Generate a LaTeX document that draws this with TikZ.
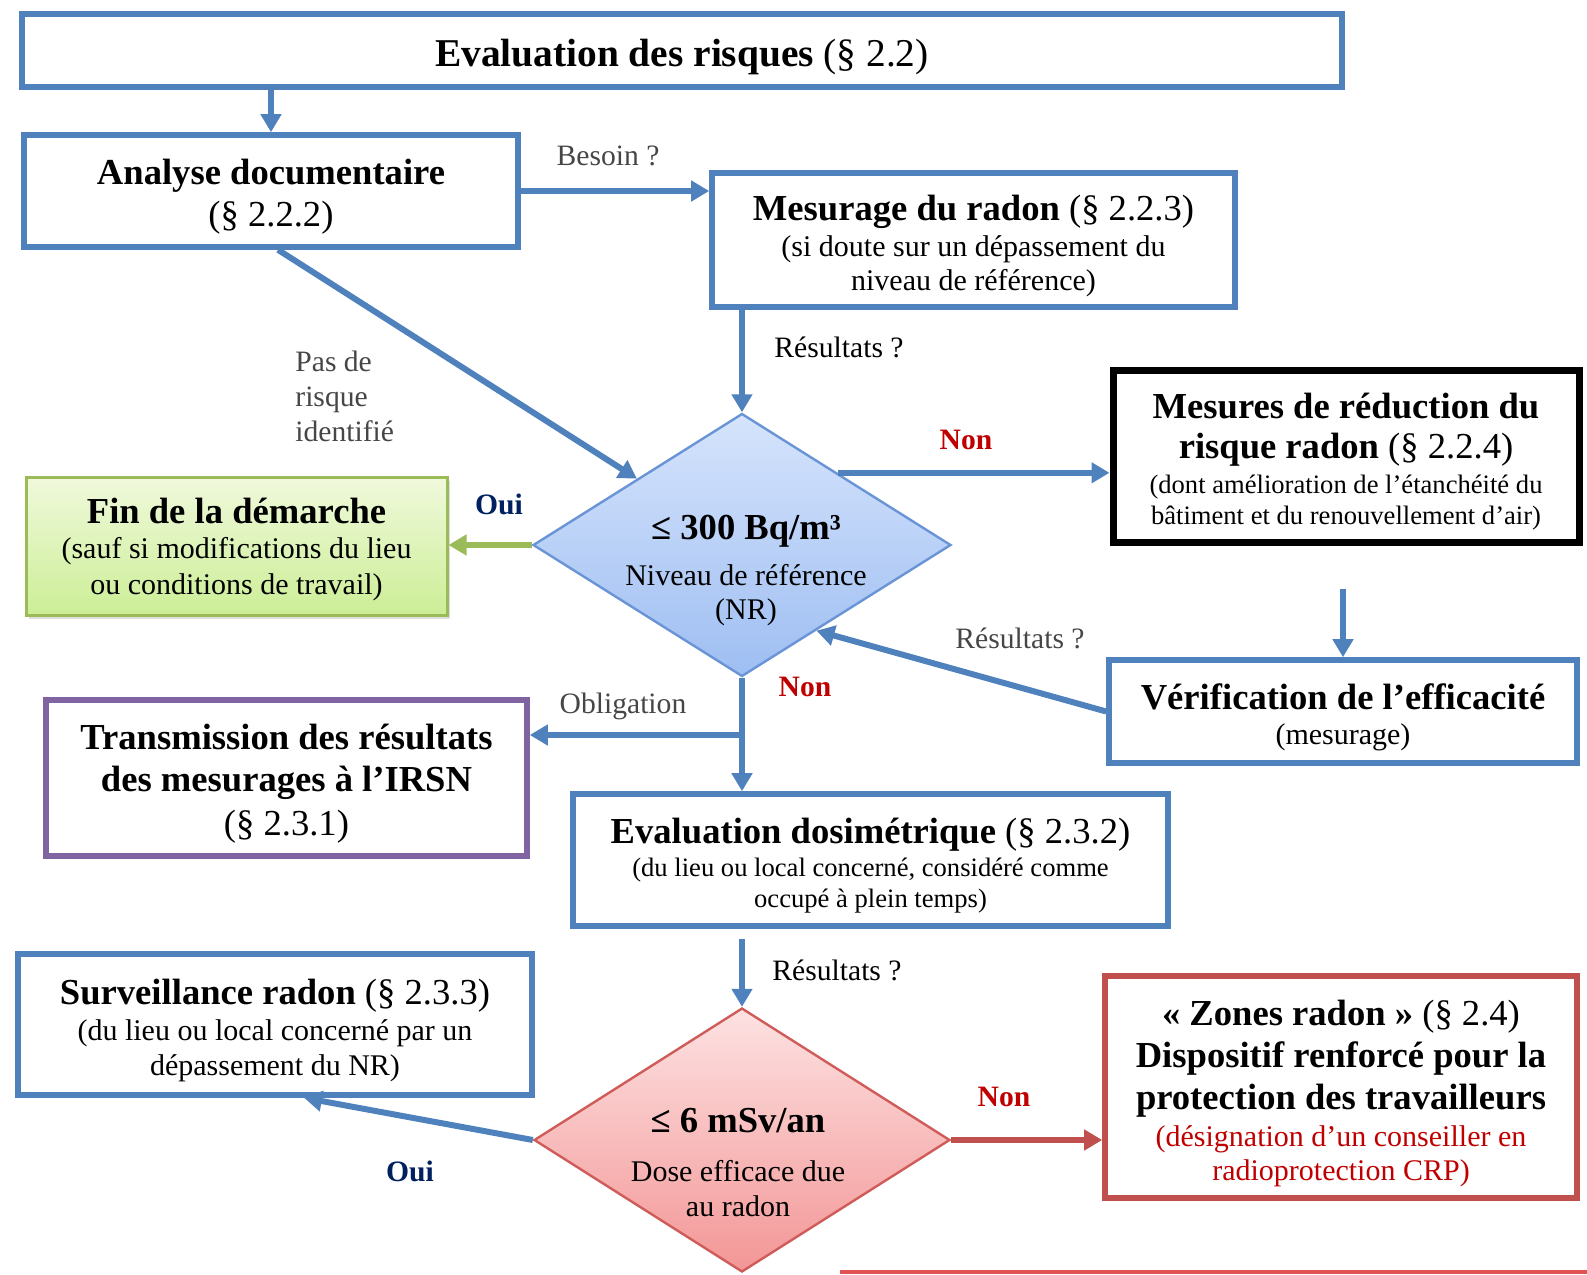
\documentclass[tikz,border=0pt]{standalone}
\usepackage{fontspec}
\setmainfont{Liberation Serif}
\usepackage{tikz}
\usetikzlibrary{arrows.meta,shapes.geometric,shadows}
\definecolor{box-blue}{RGB}{79,129,189}
\definecolor{nr-edge}{RGB}{105,148,214}
\definecolor{nr-top}{RGB}{214,228,252}
\definecolor{nr-bottom}{RGB}{158,190,242}
\definecolor{fin-edge}{RGB}{155,187,89}
\definecolor{fin-top}{RGB}{240,249,220}
\definecolor{fin-bottom}{RGB}{204,238,150}
\definecolor{trans-purple}{RGB}{128,100,162}
\definecolor{zone-red}{RGB}{192,80,77}
\definecolor{dose-edge}{RGB}{208,92,90}
\definecolor{dose-top}{RGB}{253,226,226}
\definecolor{dose-bottom}{RGB}{243,150,150}
\definecolor{non-red}{RGB}{192,0,0}
\definecolor{oui-blue}{RGB}{0,32,96}
\definecolor{lbl-gray}{RGB}{70,70,70}
\definecolor{cut-red}{RGB}{226,84,84}
\newcommand{\txtTitle}{\fontsize{19.7}{22}\selectfont}
\newcommand{\txtMain}{\fontsize{18.3}{21}\selectfont}
\newcommand{\txtSub}{\fontsize{15}{17}\selectfont}
\newcommand{\txtSmall}{\fontsize{13.3}{15.5}\selectfont}
\newcommand{\txtLabel}{\fontsize{14.8}{17.5}\selectfont}
\newcommand{\sinkline}{\rule{0pt}{18.7pt}}
\tikzstyle{box}=[draw=box-blue, line width=2.8pt, fill=white, align=center, inner sep=0pt]
\tikzstyle{choice}=[diamond, inner sep=0pt, line width=1.2pt]
\tikzstyle{dtext}=[font=\txtSub, align=center, inner sep=0pt]
\tikzstyle{link}=[draw=box-blue, line width=3pt, -{Triangle[length=9pt,width=10pt]}]
\tikzstyle{lbl}=[font=\txtLabel, inner sep=0pt]
\tikzstyle{non}=[font=\txtLabel\bfseries, text=non-red, inner sep=0pt]
\tikzstyle{oui}=[font=\txtLabel\bfseries, text=oui-blue, inner sep=0pt]

\begin{document}
\begin{tikzpicture}[x=0.5pt,y=-0.5pt]
	\useasboundingbox (0,0) rectangle (1587,1275);
	\node[box, minimum width=660pt, minimum height=36.5pt, font=\txtTitle] (risques) at (682,50.5) {\rule{0pt}{19.7pt}\textbf{Evaluation des risques} (§ 2.2)};
	\node[box, minimum width=247pt, minimum height=56pt, font=\txtMain] (analyse) at (271,191) {\sinkline\textbf{Analyse documentaire}\\(§ 2.2.2)};
	\node[box, minimum width=261.5pt, minimum height=67pt, font=\txtSub] (mesurage) at (973.5,240) {{\sinkline\txtMain\textbf{Mesurage du radon} (§ 2.2.3)}\\[1pt](si doute sur un dépassement du\\niveau de référence)};
	\node[box, draw=black, line width=3.5pt, minimum width=233pt, minimum height=86pt, font=\txtSmall] (mesures) at (1346,456) {{\sinkline\txtMain\textbf{Mesures de réduction du}}\\[4.5pt]{\txtMain\textbf{risque radon} (§ 2.2.4)}\\[2pt](dont amélioration de l’étanchéité du\\bâtiment et du renouvellement d’air)};
	\node[box, draw=fin-edge, line width=1.5pt, top color=fin-top, bottom color=fin-bottom, drop shadow={shadow xshift=1.5pt, shadow yshift=-2pt, opacity=0.25}, minimum width=210.5pt, minimum height=69pt, font=\txtSub] (fin) at (236.5,546) {{\rule{0pt}{15.7pt}\txtMain\textbf{Fin de la démarche}}\\[0.5pt](sauf si modifications du lieu\\[1pt]ou conditions de travail)};
	\node[box, minimum width=234pt, minimum height=51.5pt, font=\txtSub] (verif) at (1343,711.5) {{\sinkline\txtMain\textbf{Vérification de l’efficacité}}\\[0.5pt](mesurage)};
	\node[box, draw=trans-purple, minimum width=240.5pt, minimum height=78pt, font=\txtMain] (transmission) at (286.5,778) {\sinkline\textbf{Transmission des résultats}\\\textbf{des mesurages à l’IRSN}\\[1pt](§ 2.3.1)};
	\node[box, minimum width=297.5pt, minimum height=66pt, font=\txtSmall] (evaldos) at (870.5,860) {{\sinkline\txtMain\textbf{Evaluation dosimétrique} (§ 2.3.2)}\\[1pt](du lieu ou local concerné, considéré comme\\occupé à plein temps)};
	\node[box, minimum width=257pt, minimum height=70.5pt, font=\txtSub] (surveillance) at (275,1024.5) {{\sinkline\txtMain\textbf{Surveillance radon} (§ 2.3.3)}\\[1pt](du lieu ou local concerné par un\\[0.5pt]dépassement du NR)};
	\node[box, draw=zone-red, minimum width=236pt, minimum height=111pt, font=\txtSub] (zones) at (1341,1087) {{\sinkline\txtMain\textbf{« Zones radon »} (§ 2.4)}\\[4pt]{\txtMain\textbf{Dispositif renforcé pour la}}\\[4pt]{\txtMain\textbf{protection des travailleurs}}\\[1.5pt]\textcolor{non-red}{(désignation d’un conseiller en}\\\textcolor{non-red}{radioprotection CRP)}};
	\node[choice, draw=nr-edge, top color=nr-top, bottom color=nr-bottom, minimum width=209pt, minimum height=131.5pt] (nr) at (742,545) {};
	\node[dtext] (nr-text) at (746,571) {{\txtMain\textbf{≤ 300 Bq/m³}}\\[6pt]Niveau de référence\\(NR)};
	\node[choice, draw=dose-edge, top color=dose-top, bottom color=dose-bottom, minimum width=208pt, minimum height=132pt] (dose) at (742,1140) {};
	\node[dtext] (dose-text) at (738,1163) {{\txtMain\textbf{≤ 6 mSv/an}}\\[7.5pt]Dose efficace due\\[0.5pt]au radon};
	\draw[cut-red, line width=1.6pt] (840,1272) -- (1587,1272);

	\draw[link] (risques.south -| analyse.north) -- (analyse.north);
	\draw[link] (analyse.east) -- (analyse.east -| mesurage.west);
	\draw[link] ([xshift=3.5pt]analyse.south) -- (nr.north west);
	\draw[link] (nr.north |- mesurage.south) -- (nr.north);
	\draw[link, draw=fin-edge] (nr.west) -- (nr.west -| fin.east);
	\draw[link] (nr.37.5) -- (nr.37.5 -| mesures.west);
	\draw[link, shorten <=21.5pt] (verif.north |- mesures.south) -- (verif.north);
	\draw[link] (verif.west) -- (nr.-49);
	\draw[link] (nr.south) -- (nr.south |- evaldos.north);
	\coordinate (oblig-pt) at (742,735);
	\draw[link] (oblig-pt) -- (oblig-pt -| transmission.east);
	\draw[link, shorten <=5pt] (nr.south |- evaldos.south) -- (dose.north);
	\draw[link] (dose.west) -- ([xshift=14.5pt]surveillance.south);
	\draw[link, draw=zone-red] (dose.east) -- (dose.east -| zones.west);

	\node[lbl, text=lbl-gray] (besoin) at (608,156) {Besoin ?};
	\node[lbl] (res-a) at (839,347) {Résultats ?};
	\node[lbl, text=lbl-gray, align=left, anchor=west] (pasrisque) at (295,396) {Pas de\\risque\\identifié};
	\node[oui] (oui-a) at (499,504) {Oui};
	\node[non] (non-a) at (966,440) {Non};
	\node[lbl, text=lbl-gray] (res-b) at (1020,638) {Résultats ?};
	\node[non] (non-b) at (805,687) {Non};
	\node[lbl, text=lbl-gray] (oblig) at (623,706) {Obligation};
	\node[lbl] (res-c) at (837,970) {Résultats ?};
	\node[oui] (oui-b) at (410,1171) {Oui};
	\node[non] (non-c) at (1004,1097) {Non};
\end{tikzpicture}
\end{document}
